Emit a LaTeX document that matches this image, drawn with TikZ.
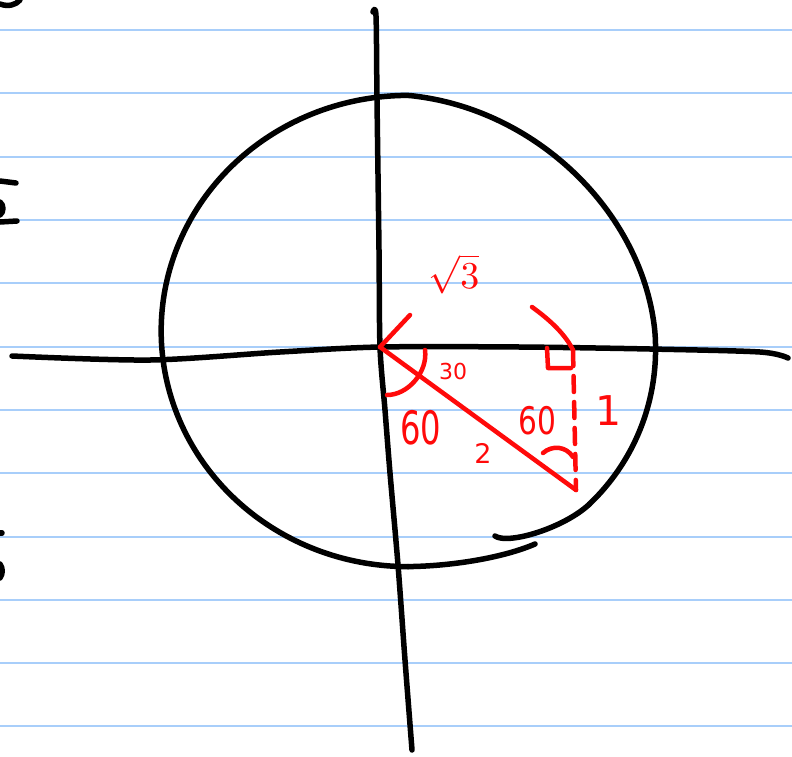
\documentclass[tikz,border=0pt]{standalone}
\usepackage{fontspec}
\usepackage{graphicx}
\usepackage{tikz}
\newfontfamily\handfont{DejaVu Sans}
\definecolor{ruleblue}{RGB}{168,206,250}
\definecolor{penred}{RGB}{255,10,10}
\tikzset{
  ink/.style={line width=5.5pt, line cap=round, line join=round, black},
  redink/.style={line width=4.5pt, line cap=round, line join=round, penred},
  rule/.style={line width=1.8pt, ruleblue},
  lbl/.style={text=penred, inner sep=0pt}
}
\begin{document}
\begin{tikzpicture}[x=1pt, y=-1pt]
\useasboundingbox (0,0) rectangle (792,756);
\fill[white] (0,0) rectangle (792,756);
% ruled lines
\foreach \yy in {30,93,157,220,283,347,410,473,537,600,663,726}
  \draw[rule] (0,\yy) -- (792,\yy);

% named points
\coordinate (O) at (380,347);
\coordinate (P) at (576,490);
\coordinate (Q) at (573,350);
\coordinate (C0) at ({408+242*1.06*cos(45)},{331+231*1.06*sin(45)});
\coordinate (Cb) at (408,566.6);

% vertical axis
\draw[ink] plot[smooth] coordinates {(373,12) (376,16) (377,100) (379,250) (380,347) (385,410) (390,473) (398,565) (405,660) (412,750)};
% horizontal axis
\draw[ink] plot[smooth] coordinates {(12,356) (150,360) (280,352) (380,347) (520,347) (650,349) (760,352) (788,358)};

% circle (hand drawn, open with overlapping ends)
\draw[ink] plot[domain=45:-270, samples=160, smooth]
  ({408+242*(1.02+(cos(\x)>0)*(0.04*max(0,sin(2*\x))-0.05*max(0,-sin(2*\x))))*cos(\x)},
   {331+231*(1.02+(cos(\x)>0)*(0.04*max(0,sin(2*\x))-0.05*max(0,-sin(2*\x))))*sin(\x)});
\draw[ink] (495,536) .. controls (508,545) and (564,528) .. (C0);
\draw[ink] (Cb) .. controls (455,566) and (505,557) .. (535,544);

% margin fragments
\draw[ink] (0,4) .. controls (8,7) and (16,5) .. (20,0);
\draw[ink] (0,181) -- (16,183);
\draw[ink] (0,222) -- (17,221);
\draw[ink] (0,202) .. controls (4,205) and (4,212) .. (0,215);
\draw[ink] (0,533) -- (2,533);
\draw[ink] (0,564) .. controls (3,568) and (3,574) .. (0,578);

% red annotations
\draw[redink] (O) -- (410,315);
\draw[redink] (532,307) .. controls (550,320) and (565,334) .. (Q);
\draw[redink] (O) -- (P);
\draw[redink, dash pattern=on 16pt off 10pt] (Q) -- (P);
\draw[redink] (547,348) -- (548,368) -- (571,368);
\draw[redink] (425,350) .. controls (428,372) and (408,395) .. (387,395);
\draw[redink] (543,453) .. controls (552,445) and (566,446) .. (573,457);

% labels
\node[lbl] (sq) at (454,274) {\scalebox{3.8}{$\sqrt{3}$}};
\node[lbl, font=\handfont\fontsize{22}{22}\selectfont] (a30) at (453,371) {30};
\node[lbl, font=\handfont\fontsize{46}{46}\selectfont] (a60l) at (421,428) {\scalebox{0.7}[1]{60}};
\node[lbl, font=\handfont\fontsize{27}{27}\selectfont] (s2) at (483,453) {2};
\node[lbl, font=\handfont\fontsize{38}{38}\selectfont] (a60r) at (537,421) {\scalebox{0.78}[1]{60}};
\node[lbl, font=\handfont\fontsize{41}{41}\selectfont] (s1) at (609,411) {1};
\end{tikzpicture}
\end{document}
